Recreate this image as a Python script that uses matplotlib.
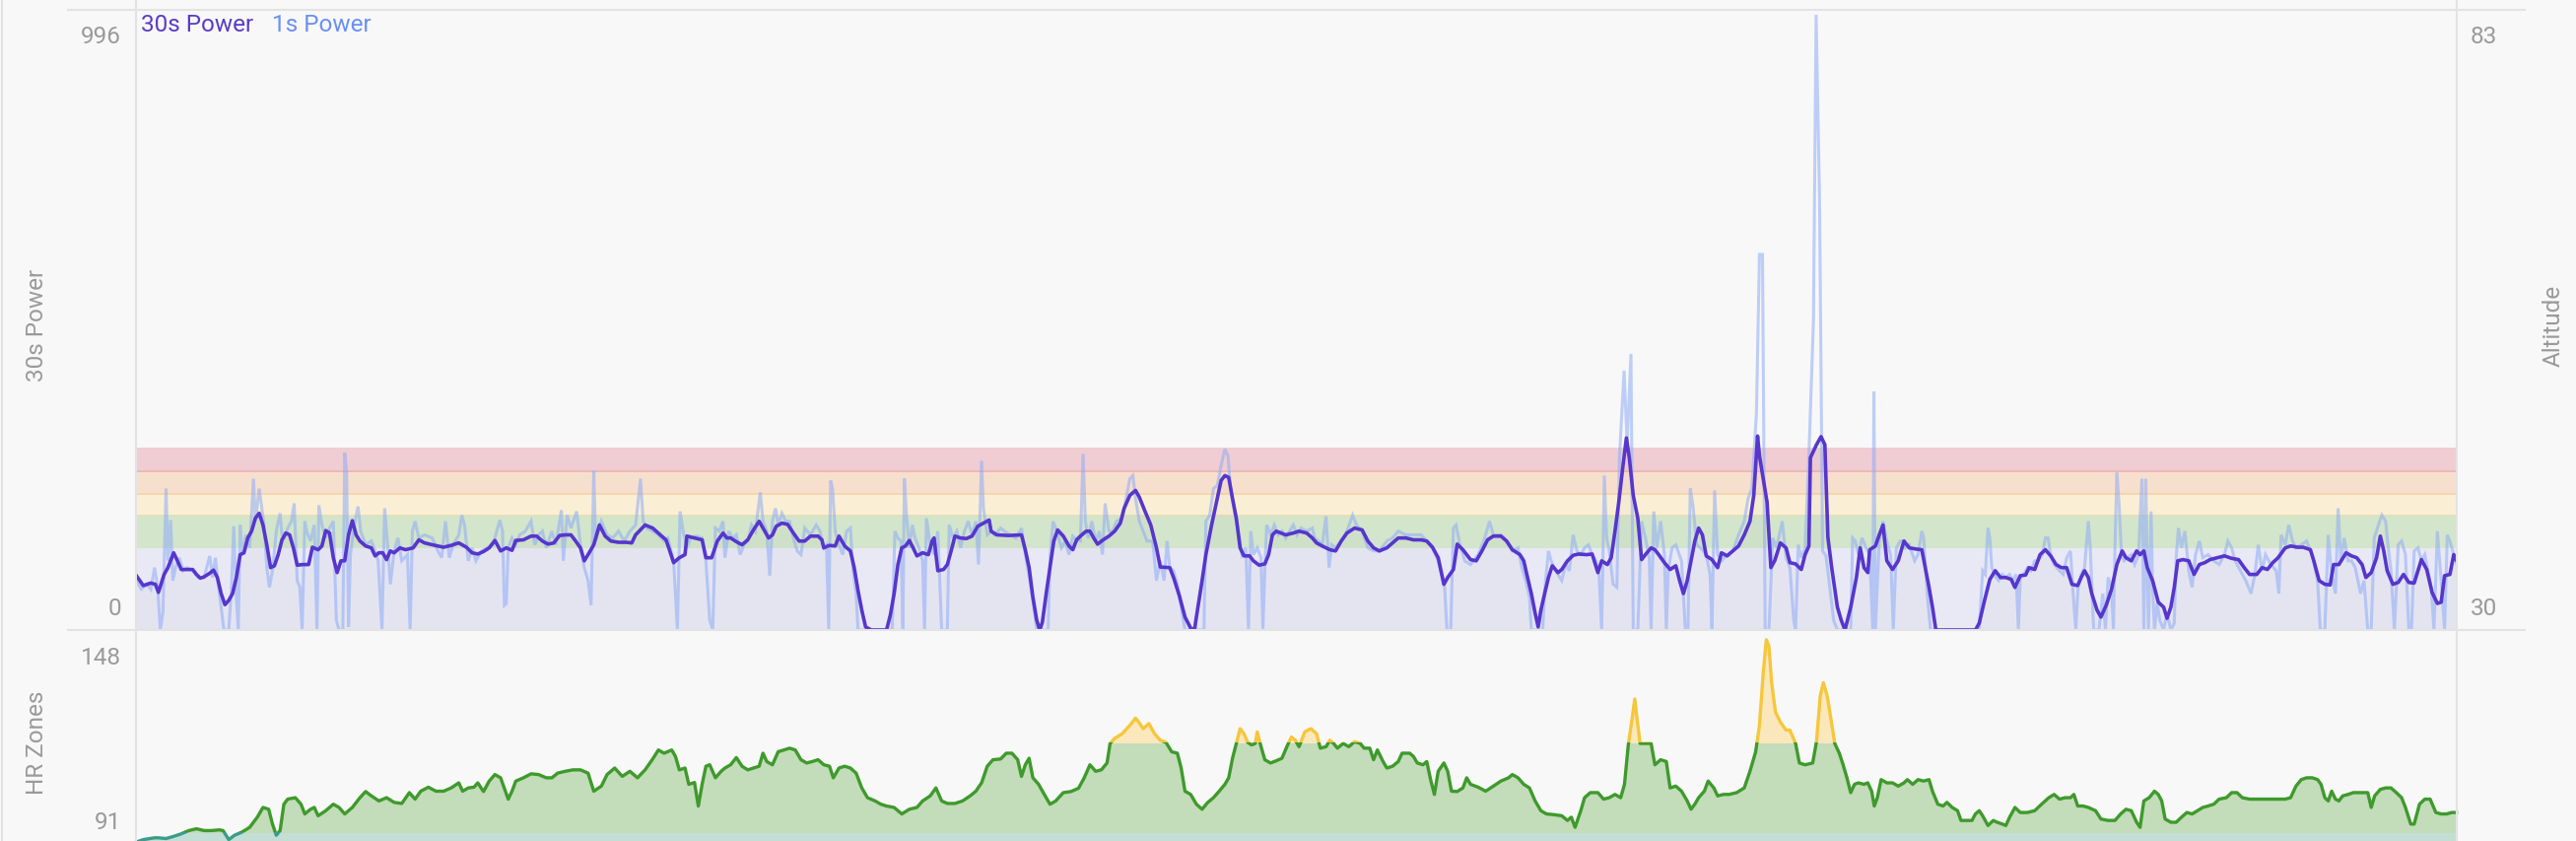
import numpy as np
import matplotlib
matplotlib.use("Agg")
import matplotlib.pyplot as plt
from matplotlib.patches import Rectangle
from matplotlib.lines import Line2D

plt.rcParams['font.family'] = ['Roboto', 'DejaVu Sans']

# ---------------- data (elapsed seconds, value) ----------------
power_30s_samples = [
    (1, 88), (19, 72), (39, 76), (51, 74), (59, 61), (74, 90), (84, 101), (99, 125), (109, 112), (119, 98),
    (149, 98), (159, 90), (169, 84), (179, 86), (194, 92), (204, 97), (214, 85), (224, 59), (234, 41), (244, 48),
    (254, 59), (264, 85), (274, 122), (284, 125), (294, 149), (304, 160), (314, 181), (324, 189), (334, 170), (344, 138),
    (354, 101), (364, 104), (374, 122), (384, 146), (394, 157), (404, 154), (414, 133), (424, 105), (439, 106), (454, 106),
    (464, 134), (479, 130), (489, 136), (499, 161), (509, 157), (519, 117), (529, 93), (539, 112), (549, 112), (559, 154),
    (569, 177), (579, 154), (589, 144), (604, 136), (619, 133), (629, 120), (639, 125), (649, 125), (659, 114), (669, 128),
    (679, 125), (694, 133), (709, 130), (729, 133), (744, 146), (759, 141), (779, 138), (794, 136), (809, 134), (829, 137),
    (849, 141), (869, 134), (884, 125), (899, 123), (914, 127), (929, 133), (944, 145), (959, 128), (974, 133), (989, 129),
    (999, 145), (1019, 146), (1039, 152), (1054, 152), (1069, 144), (1084, 139), (1099, 141), (1114, 153), (1129, 154),
    (1144, 154), (1154, 146), (1169, 133), (1179, 112), (1189, 122), (1204, 138), (1219, 170), (1234, 152), (1249, 144),
    (1269, 142), (1289, 142), (1304, 141), (1314, 154), (1339, 170), (1359, 165), (1379, 154), (1394, 146), (1404, 128),
    (1414, 109), (1429, 117), (1444, 122), (1449, 152), (1469, 149), (1489, 146), (1499, 117), (1514, 117), (1529, 144),
    (1544, 157), (1554, 149), (1564, 149), (1579, 143), (1594, 138), (1609, 146), (1624, 162), (1639, 176), (1654, 160),
    (1664, 149), (1674, 154), (1684, 168), (1699, 173), (1714, 171), (1729, 157), (1744, 144), (1759, 144), (1774, 152),
    (1794, 152), (1804, 146), (1809, 133), (1824, 137), (1839, 136), (1849, 152), (1864, 136), (1879, 128), (1889, 101),
    (1899, 64), (1909, 32), (1919, 5), (1934, 0), (1974, 0), (1984, 24), (1994, 59), (2004, 106), (2014, 133), (2024, 136),
    (2034, 145), (2044, 133), (2054, 120), (2069, 125), (2084, 122), (2094, 144), (2099, 149), (2109, 96), (2124, 98),
    (2134, 106), (2144, 128), (2154, 152), (2169, 149), (2184, 148), (2199, 152), (2214, 168), (2229, 173), (2244, 178),
    (2249, 160), (2264, 154), (2294, 153), (2329, 154), (2339, 130), (2349, 101), (2359, 53), (2369, 16), (2377, 0),
    (2384, 13), (2394, 59), (2404, 101), (2414, 144), (2424, 162), (2439, 152), (2454, 136), (2464, 130), (2474, 146),
    (2484, 152), (2499, 160), (2509, 160), (2519, 149), (2529, 139), (2544, 146), (2559, 152), (2574, 160), (2589, 173),
    (2599, 197), (2614, 218), (2629, 226), (2639, 215), (2654, 192), (2669, 170), (2684, 133), (2694, 102), (2719, 101),
    (2729, 85), (2744, 56), (2759, 21), (2774, 3), (2784, 0), (2789, 21), (2804, 80), (2814, 122), (2829, 170), (2844, 213),
    (2854, 242), (2864, 250), (2874, 247), (2884, 213), (2894, 181), (2904, 133), (2914, 120), (2929, 120), (2939, 112),
    (2954, 105), (2969, 107), (2979, 122), (2989, 154), (2999, 160), (3024, 154), (3044, 157), (3059, 160), (3079, 157),
    (3094, 149), (3105, 141), (3120, 136), (3140, 130), (3155, 128), (3170, 144), (3185, 157), (3205, 165), (3225, 162),
    (3240, 144), (3255, 133), (3270, 128), (3290, 133), (3305, 141), (3320, 149), (3340, 149), (3360, 146), (3380, 146),
    (3395, 144), (3410, 134), (3425, 117), (3440, 74), (3450, 85), (3465, 98), (3475, 139), (3490, 130), (3510, 114),
    (3525, 112), (3540, 128), (3555, 146), (3570, 152), (3590, 152), (3605, 144), (3620, 130), (3640, 122), (3650, 112),
    (3660, 85), (3670, 59), (3680, 27), (3688, 5), (3695, 32), (3705, 59), (3715, 85), (3725, 104), (3740, 93), (3750, 98),
    (3765, 112), (3780, 121), (3795, 123), (3815, 122), (3830, 123), (3845, 93), (3855, 112), (3870, 106), (3880, 117),
    (3890, 160), (3900, 207), (3910, 261), (3920, 311), (3928, 277), (3938, 218), (3950, 181), (3960, 114), (3970, 122),
    (3985, 133), (3995, 130), (4005, 122), (4020, 109), (4035, 98), (4050, 104), (4060, 80), (4070, 59), (4080, 80),
    (4090, 112), (4100, 144), (4110, 165), (4120, 154), (4130, 120), (4145, 114), (4160, 101), (4170, 125), (4185, 120),
    (4200, 128), (4215, 136), (4230, 154), (4245, 176), (4255, 218), (4265, 314), (4270, 282), (4280, 245), (4290, 207),
    (4300, 101), (4310, 112), (4325, 141), (4340, 133), (4350, 109), (4365, 107), (4380, 98), (4390, 122), (4400, 136),
    (4404, 279), (4420, 300), (4432, 313), (4442, 300), (4450, 150), (4460, 101), (4475, 37), (4485, 16), (4495, 0),
    (4510, 37), (4525, 85), (4535, 133), (4545, 101), (4555, 93), (4560, 130), (4575, 136), (4585, 154), (4595, 170),
    (4605, 112), (4620, 98), (4635, 112), (4650, 144), (4664, 133), (4683, 131), (4697, 130), (4706, 101), (4716, 69),
    (4725, 37), (4734, 0), (4838, 0), (4848, 11), (4862, 48), (4876, 82), (4890, 96), (4904, 85), (4918, 85), (4932, 82),
    (4942, 69), (4956, 88), (4970, 89), (4979, 101), (4994, 98), (5008, 122), (5022, 130), (5036, 120), (5050, 106),
    (5064, 101), (5078, 101), (5092, 74), (5107, 72), (5116, 85), (5125, 96), (5135, 85), (5144, 59), (5158, 32),
    (5168, 21), (5182, 40), (5196, 66), (5210, 106), (5224, 128), (5234, 117), (5248, 112), (5262, 128), (5271, 122),
    (5281, 128), (5290, 101), (5304, 80), (5319, 45), (5333, 37), (5342, 19), (5352, 37), (5361, 69), (5370, 112),
    (5384, 114), (5399, 112), (5413, 90), (5427, 106), (5441, 109), (5455, 114), (5474, 117), (5493, 120), (5512, 116),
    (5530, 114), (5545, 101), (5559, 90), (5578, 90), (5592, 101), (5606, 98), (5620, 109), (5634, 117), (5653, 133),
    (5667, 136), (5686, 134), (5700, 134), (5719, 130), (5728, 112), (5742, 80), (5757, 74), (5771, 73), (5780, 106),
    (5794, 106), (5813, 125), (5827, 120), (5841, 117), (5855, 106), (5865, 85), (5879, 93), (5893, 117), (5903, 152),
    (5912, 128), (5921, 96), (5936, 74), (5950, 77), (5964, 90), (5978, 77), (5992, 76), (6011, 114), (6025, 98),
    (6039, 61), (6053, 43), (6063, 45), (6072, 88), (6086, 90), (6096, 122), (6104, 112),
]

power_1s_samples = [
    (1, 80), (14, 66), (29, 74), (39, 66), (49, 101), (57, 69), (64, 0), (71, 29), (79, 229), (84, 112), (91, 178),
    (97, 80), (104, 101), (114, 117), (124, 96), (134, 101), (149, 96), (164, 85), (179, 85), (194, 120), (201, 85),
    (209, 117), (217, 69), (224, 37), (231, 0), (244, 0), (251, 66), (257, 168), (264, 53), (269, 0), (274, 170),
    (279, 122), (289, 154), (299, 133), (309, 245), (314, 176), (324, 229), (331, 197), (337, 170), (344, 101), (351, 69),
    (359, 96), (369, 160), (379, 189), (384, 154), (391, 149), (399, 165), (409, 176), (416, 205), (424, 80), (431, 69),
    (437, 0), (444, 176), (449, 160), (459, 144), (469, 170), (476, 0), (481, 202), (489, 170), (499, 149), (509, 165),
    (519, 176), (527, 16), (534, 0), (544, 0), (549, 287), (554, 255), (559, 5), (564, 122), (574, 170), (584, 200),
    (591, 160), (604, 138), (619, 144), (629, 128), (637, 112), (647, 0), (654, 197), (661, 144), (669, 74), (679, 128),
    (689, 149), (699, 112), (714, 122), (721, 0), (727, 160), (734, 176), (744, 149), (759, 154), (779, 149), (794, 128),
    (804, 117), (814, 176), (824, 117), (834, 138), (849, 154), (857, 186), (864, 170), (874, 112), (884, 133), (894, 112),
    (909, 128), (924, 133), (939, 138), (957, 178), (964, 160), (969, 40), (974, 43), (979, 133), (989, 149), (999, 138),
    (1009, 154), (1024, 160), (1039, 176), (1049, 138), (1059, 154), (1069, 160), (1079, 133), (1094, 160), (1104, 138),
    (1119, 194), (1124, 112), (1134, 186), (1144, 165), (1159, 192), (1169, 138), (1179, 101), (1189, 80), (1197, 40),
    (1204, 258), (1209, 144), (1224, 176), (1239, 154), (1254, 149), (1269, 160), (1284, 144), (1299, 160), (1314, 170),
    (1327, 245), (1334, 176), (1344, 165), (1359, 160), (1374, 154), (1389, 144), (1399, 149), (1414, 112), (1424, 0),
    (1431, 192), (1439, 160), (1449, 133), (1459, 149), (1474, 152), (1489, 149), (1499, 112), (1509, 16), (1517, 0),
    (1524, 165), (1534, 160), (1544, 176), (1549, 117), (1559, 160), (1569, 149), (1579, 154), (1589, 122), (1599, 138),
    (1609, 144), (1619, 170), (1629, 160), (1642, 223), (1649, 176), (1659, 160), (1667, 88), (1674, 176), (1682, 197),
    (1689, 170), (1699, 189), (1709, 176), (1719, 176), (1729, 149), (1739, 128), (1749, 122), (1759, 165), (1774, 154),
    (1789, 170), (1799, 160), (1809, 133), (1816, 138), (1822, 0), (1827, 242), (1832, 229), (1839, 160), (1849, 138),
    (1859, 122), (1869, 160), (1879, 165), (1886, 96), (1894, 59), (1899, 0), (1989, 0), (1996, 160), (2004, 149),
    (2012, 144), (2017, 0), (2021, 245), (2026, 191), (2034, 133), (2042, 170), (2049, 149), (2059, 133), (2069, 112),
    (2074, 0), (2079, 181), (2089, 138), (2099, 122), (2109, 160), (2119, 0), (2134, 0), (2139, 170), (2149, 149),
    (2159, 160), (2169, 133), (2179, 160), (2189, 176), (2199, 154), (2209, 176), (2216, 106), (2224, 274), (2229, 197),
    (2239, 154), (2249, 160), (2259, 154), (2274, 165), (2284, 160), (2299, 154), (2314, 149), (2329, 165), (2339, 122),
    (2349, 85), (2359, 48), (2369, 0), (2399, 0), (2404, 117), (2412, 176), (2422, 160), (2434, 133), (2444, 144),
    (2454, 122), (2464, 152), (2474, 146), (2484, 144), (2491, 285), (2497, 176), (2504, 149), (2514, 176), (2524, 144),
    (2534, 160), (2542, 122), (2549, 205), (2559, 160), (2569, 160), (2579, 176), (2594, 181), (2604, 213), (2614, 245),
    (2622, 250), (2629, 213), (2639, 176), (2649, 160), (2659, 144), (2674, 144), (2684, 80), (2694, 112), (2704, 80),
    (2712, 144), (2719, 101), (2729, 96), (2739, 74), (2749, 37), (2759, 0), (2809, 0), (2814, 176), (2824, 186),
    (2834, 229), (2844, 234), (2854, 266), (2864, 293), (2872, 282), (2879, 229), (2889, 192), (2899, 160), (2909, 122),
    (2919, 133), (2926, 0), (2932, 160), (2939, 122), (2949, 133), (2959, 117), (2964, 0), (2969, 96), (2974, 170),
    (2984, 154), (2994, 170), (3004, 154), (3014, 160), (3024, 149), (3034, 160), (3044, 170), (3054, 154), (3064, 165),
    (3079, 160), (3094, 165), (3100, 149), (3110, 144), (3120, 138), (3130, 184), (3138, 101), (3145, 138), (3155, 133),
    (3170, 144), (3185, 160), (3200, 186), (3210, 170), (3225, 160), (3240, 133), (3255, 128), (3270, 128), (3290, 144),
    (3305, 149), (3320, 160), (3340, 154), (3360, 154), (3380, 154), (3395, 144), (3410, 133), (3425, 112), (3435, 85),
    (3442, 69), (3448, 0), (3458, 0), (3465, 165), (3472, 170), (3482, 138), (3495, 112), (3510, 106), (3530, 122),
    (3545, 144), (3560, 176), (3570, 154), (3590, 154), (3605, 144), (3620, 128), (3635, 133), (3645, 101), (3655, 80),
    (3665, 53), (3670, 0), (3700, 0), (3705, 64), (3715, 128), (3722, 112), (3730, 101), (3740, 90), (3750, 80),
    (3760, 106), (3770, 96), (3780, 154), (3790, 128), (3800, 122), (3810, 133), (3820, 138), (3830, 122), (3840, 112),
    (3848, 90), (3855, 0), (3862, 250), (3868, 149), (3875, 128), (3885, 74), (3895, 69), (3902, 282), (3914, 420),
    (3922, 300), (3932, 447), (3938, 0), (3950, 0), (3960, 176), (3970, 149), (3980, 117), (3985, 0), (3992, 192),
    (4000, 133), (4010, 176), (4020, 122), (4025, 0), (4030, 96), (4040, 133), (4050, 138), (4065, 112), (4075, 0),
    (4082, 0), (4088, 229), (4095, 202), (4105, 138), (4115, 133), (4130, 122), (4140, 90), (4145, 0), (4152, 226),
    (4160, 122), (4170, 112), (4185, 122), (4200, 128), (4215, 154), (4230, 176), (4240, 213), (4250, 229), (4262, 350),
    (4270, 608), (4278, 608), (4285, 0), (4295, 0), (4305, 149), (4315, 133), (4330, 176), (4340, 117), (4350, 101),
    (4360, 16), (4365, 0), (4372, 138), (4380, 117), (4390, 133), (4400, 282), (4412, 500), (4419, 996), (4428, 700),
    (4436, 128), (4445, 120), (4455, 69), (4465, 16), (4475, 0), (4510, 0), (4515, 149), (4522, 144), (4530, 122),
    (4540, 149), (4550, 133), (4560, 122), (4568, 0), (4571, 386), (4575, 0), (4585, 144), (4595, 176), (4605, 144),
    (4615, 122), (4622, 0), (4630, 133), (4640, 144), (4650, 144), (4654, 133), (4664, 138), (4678, 112), (4687, 122),
    (4697, 160), (4702, 149), (4711, 59), (4720, 0), (4848, 0), (4857, 96), (4864, 90), (4871, 165), (4876, 149),
    (4881, 101), (4892, 85), (4899, 80), (4909, 90), (4918, 85), (4928, 90), (4937, 80), (4945, 90), (4951, 0), (4956, 85),
    (4965, 90), (4975, 101), (4984, 96), (4994, 112), (5003, 112), (5014, 122), (5022, 149), (5029, 149), (5036, 122),
    (5045, 106), (5059, 96), (5069, 90), (5078, 117), (5088, 128), (5095, 59), (5102, 0), (5108, 69), (5116, 90),
    (5125, 101), (5135, 176), (5140, 133), (5149, 0), (5163, 0), (5173, 59), (5180, 0), (5187, 85), (5196, 69), (5201, 0),
    (5205, 133), (5210, 255), (5216, 202), (5222, 122), (5229, 112), (5238, 117), (5248, 122), (5257, 106), (5267, 122),
    (5276, 245), (5281, 0), (5286, 245), (5293, 0), (5300, 192), (5304, 69), (5309, 0), (5316, 43), (5323, 16), (5333, 0),
    (5342, 27), (5352, 0), (5361, 11), (5366, 117), (5372, 165), (5380, 133), (5389, 160), (5399, 96), (5408, 69),
    (5417, 122), (5427, 144), (5436, 117), (5450, 122), (5465, 112), (5479, 106), (5493, 122), (5502, 144), (5512, 133),
    (5521, 112), (5535, 96), (5549, 80), (5563, 59), (5573, 90), (5582, 138), (5592, 96), (5601, 122), (5615, 106),
    (5629, 96), (5636, 59), (5642, 154), (5653, 138), (5662, 170), (5672, 144), (5681, 133), (5695, 138), (5709, 144),
    (5724, 122), (5738, 80), (5745, 0), (5757, 0), (5766, 154), (5775, 90), (5785, 59), (5792, 197), (5799, 112),
    (5808, 149), (5818, 112), (5827, 112), (5837, 101), (5851, 59), (5860, 80), (5870, 0), (5879, 0), (5887, 149),
    (5898, 170), (5907, 186), (5917, 176), (5921, 149), (5931, 96), (5940, 0), (5950, 138), (5959, 144), (5969, 122),
    (5978, 0), (5985, 0), (5992, 128), (6002, 133), (6011, 112), (6020, 122), (6030, 90), (6037, 69), (6044, 0),
    (6053, 160), (6063, 80), (6072, 0), (6079, 154), (6086, 144), (6096, 122), (6104, 106),
]

heart_rate_samples = [
    (0, 91.5), (19, 92.2), (49, 92.7), (59, 92.7), (79, 92.5), (99, 93.1), (119, 93.8), (139, 94.7), (159, 95.2),
    (179, 94.7), (199, 94.7), (219, 94.9), (229, 94.7), (244, 92.2), (259, 93.4), (279, 94.3), (299, 95.6), (319, 98.4),
    (334, 101.1), (349, 100.6), (359, 96.5), (369, 93.4), (379, 94.7), (389, 102.0), (399, 103.4), (419, 103.8),
    (434, 102.0), (444, 99.3), (459, 100.6), (469, 101.1), (479, 98.8), (499, 100.2), (519, 102.0), (534, 101.1),
    (549, 99.3), (569, 101.1), (589, 103.8), (604, 105.5), (619, 104.3), (639, 102.9), (659, 103.8), (679, 102.5),
    (699, 102.2), (719, 105.2), (734, 103.4), (749, 105.6), (769, 106.7), (789, 105.6), (809, 105.6), (829, 106.5),
    (849, 107.9), (859, 105.6), (874, 106.5), (889, 106.7), (899, 107.9), (914, 105.5), (929, 108.4), (944, 110.2),
    (959, 109.3), (979, 103.4), (989, 105.6), (999, 108.4), (1019, 109.3), (1039, 110.4), (1059, 110.2), (1079, 109.3),
    (1094, 109.3), (1109, 110.6), (1129, 111.1), (1149, 111.5), (1169, 111.5), (1189, 110.6), (1204, 105.6),
    (1224, 107.0), (1239, 110.2), (1259, 112.0), (1279, 109.7), (1299, 111.1), (1319, 109.3), (1339, 111.5),
    (1359, 114.5), (1374, 117.0), (1389, 116.1), (1409, 117.0), (1419, 115.2), (1429, 111.5), (1444, 112.0),
    (1454, 107.5), (1469, 108.0), (1479, 101.5), (1489, 107.5), (1499, 112.5), (1509, 112.9), (1524, 109.3),
    (1539, 111.1), (1549, 112.0), (1564, 112.9), (1579, 114.9), (1594, 112.5), (1609, 111.5), (1624, 112.0),
    (1639, 112.5), (1649, 116.1), (1659, 113.8), (1674, 112.9), (1689, 116.5), (1704, 117.0), (1719, 117.5),
    (1734, 117.0), (1749, 114.3), (1764, 113.4), (1779, 113.8), (1794, 114.3), (1809, 112.9), (1824, 112.5),
    (1834, 109.3), (1849, 112.0), (1864, 112.5), (1879, 112.0), (1894, 110.6), (1909, 106.5), (1924, 103.8),
    (1944, 102.9), (1959, 102.0), (1974, 101.5), (1994, 101.1), (2014, 99.3), (2034, 100.6), (2054, 101.1),
    (2069, 102.9), (2089, 104.3), (2104, 106.5), (2119, 102.9), (2134, 102.2), (2154, 102.2), (2174, 102.9),
    (2194, 104.3), (2209, 105.6), (2224, 107.9), (2239, 112.5), (2254, 114.3), (2274, 114.5), (2289, 116.1),
    (2304, 116.1), (2319, 114.3), (2329, 109.7), (2339, 112.9), (2349, 114.7), (2359, 109.3), (2374, 107.5),
    (2389, 104.7), (2404, 102.0), (2419, 102.9), (2439, 105.2), (2459, 105.5), (2479, 106.4), (2494, 109.3),
    (2509, 112.9), (2524, 111.1), (2539, 111.5), (2554, 113.4), (2562, 118.8), (2574, 120.2), (2594, 121.5),
    (2614, 123.8), (2629, 125.8), (2639, 124.5), (2649, 122.9), (2664, 124.3), (2679, 121.5), (2694, 119.7),
    (2709, 119.1), (2724, 116.5), (2739, 116.1), (2749, 112.0), (2759, 105.6), (2774, 104.7), (2789, 102.0),
    (2804, 100.6), (2819, 102.5), (2834, 103.8), (2849, 105.6), (2864, 107.5), (2874, 109.3), (2884, 114.7),
    (2894, 118.8), (2904, 122.9), (2914, 121.5), (2924, 119.1), (2934, 118.4), (2944, 118.8), (2949, 122.0),
    (2956, 119.1), (2969, 114.3), (2984, 113.4), (2999, 114.0), (3014, 114.7), (3029, 118.4), (3039, 120.6),
    (3049, 119.7), (3059, 117.9), (3074, 122.0), (3090, 122.9), (3105, 121.5), (3115, 117.5), (3130, 117.9),
    (3140, 119.7), (3150, 118.8), (3160, 117.5), (3175, 118.8), (3190, 117.9), (3205, 119.3), (3220, 118.8),
    (3230, 117.5), (3245, 117.5), (3255, 114.3), (3265, 117.0), (3280, 113.8), (3290, 112.0), (3305, 112.5),
    (3320, 113.8), (3330, 116.1), (3350, 116.1), (3360, 115.2), (3370, 113.4), (3385, 112.9), (3395, 113.8),
    (3405, 108.8), (3415, 104.7), (3425, 111.1), (3440, 113.4), (3450, 111.1), (3460, 105.6), (3475, 105.5),
    (3490, 106.5), (3500, 109.3), (3510, 107.5), (3530, 106.7), (3550, 105.6), (3570, 107.0), (3590, 108.4),
    (3610, 109.3), (3620, 110.2), (3635, 109.3), (3650, 107.5), (3665, 106.5), (3680, 102.9), (3695, 100.2),
    (3710, 99.3), (3730, 99.1), (3750, 98.8), (3765, 97.5), (3775, 98.4), (3785, 95.6), (3800, 100.2), (3810, 103.8),
    (3825, 105.2), (3845, 105.2), (3860, 103.4), (3875, 103.8), (3890, 104.7), (3905, 103.8), (3915, 107.5),
    (3925, 118.4), (3935, 125.6), (3942, 131.1), (3948, 125.6), (3956, 118.8), (3970, 118.8), (3985, 118.8),
    (3995, 112.9), (4010, 114.3), (4025, 113.8), (4035, 106.5), (4050, 107.0), (4065, 105.6), (4080, 102.9),
    (4090, 100.6), (4100, 102.0), (4110, 103.8), (4125, 105.6), (4135, 108.4), (4150, 106.5), (4160, 104.3),
    (4175, 104.7), (4190, 104.7), (4210, 105.2), (4230, 106.5), (4245, 111.1), (4260, 116.5), (4270, 123.8),
    (4280, 138.4), (4288, 147.5), (4295, 145.6), (4302, 135.6), (4312, 127.5), (4325, 124.7), (4340, 122.5),
    (4350, 122.5), (4365, 118.8), (4375, 113.4), (4390, 112.9), (4410, 113.4), (4420, 119.3), (4430, 132.0),
    (4438, 135.6), (4448, 132.0), (4458, 125.6), (4468, 118.8), (4480, 116.1), (4490, 112.9), (4500, 109.3),
    (4510, 105.2), (4520, 107.5), (4530, 107.9), (4545, 107.5), (4555, 107.9), (4565, 105.6), (4572, 101.5),
    (4580, 103.8), (4590, 108.8), (4605, 107.9), (4620, 107.9), (4635, 107.0), (4650, 107.9), (4659, 108.8),
    (4673, 107.5), (4687, 108.8), (4702, 108.4), (4716, 108.8), (4725, 105.6), (4739, 102.0), (4753, 101.5),
    (4763, 102.5), (4777, 101.1), (4791, 100.2), (4800, 97.5), (4815, 97.5), (4829, 97.5), (4838, 99.3), (4848, 100.2),
    (4857, 98.8), (4871, 96.1), (4885, 97.5), (4895, 97.0), (4909, 96.5), (4918, 96.1), (4928, 98.4), (4942, 101.1),
    (4956, 99.7), (4975, 99.7), (4994, 100.2), (5012, 102.0), (5031, 103.8), (5045, 104.7), (5059, 103.4),
    (5074, 103.8), (5088, 103.8), (5097, 104.7), (5107, 101.5), (5121, 101.5), (5135, 101.1), (5154, 100.2),
    (5168, 97.9), (5187, 97.5), (5205, 97.5), (5220, 99.3), (5234, 100.6), (5248, 100.2), (5262, 97.0), (5271, 95.6),
    (5281, 102.9), (5295, 103.8), (5309, 105.6), (5319, 104.7), (5328, 102.9), (5337, 97.9), (5352, 97.0),
    (5366, 97.0), (5380, 98.4), (5394, 99.7), (5408, 99.3), (5422, 100.2), (5436, 101.1), (5450, 101.5),
    (5465, 102.0), (5479, 103.4), (5498, 103.8), (5512, 105.2), (5526, 105.2), (5540, 103.8), (5559, 103.4),
    (5578, 103.4), (5596, 103.4), (5615, 103.4), (5634, 103.4), (5653, 103.4), (5667, 103.8), (5681, 107.0),
    (5695, 108.8), (5709, 109.3), (5724, 109.3), (5738, 108.8), (5747, 107.5), (5757, 103.8), (5766, 102.9),
    (5775, 105.6), (5785, 103.4), (5794, 102.9), (5804, 104.3), (5818, 104.7), (5832, 105.2), (5851, 105.2),
    (5870, 105.2), (5879, 101.1), (5888, 104.3), (5903, 106.1), (5917, 106.5), (5931, 106.5), (5945, 105.2),
    (5959, 103.8), (5969, 101.1), (5983, 96.5), (5992, 96.5), (6006, 102.0), (6020, 103.4), (6034, 103.4),
    (6049, 99.7), (6063, 99.3), (6077, 99.3), (6091, 99.7), (6103, 99.7),
]

power_zone_edges = [0, 132, 185, 220, 257, 295]          # watts
power_zone_colors = ['#e9e9f5', '#d3e5cb', '#faefd5', '#f7dfce', '#efcdd3']
power_zone_lines = [None, None, '#e2e0b6', '#f5d4ab', '#ecb5b5']
hr_zone_edges = [94.3, 119.2]                            # bpm
power_max = 996
altitude_range = (30, 83)
hr_range = (91, 148)
total_seconds = 6104

t_30s, power_30s = map(np.array, zip(*power_30s_samples))
t_1s, power_1s = map(np.array, zip(*power_1s_samples))
t_hr, heart_rate = map(np.array, zip(*heart_rate_samples))

# ---------------- figure ----------------
W, H = 2614, 854
BG = '#f8f8f8'
fig = plt.figure(figsize=(W / 100, H / 100), dpi=100, facecolor=BG)

L, R = 138, 2493
P_TOP, P_BOT = 11, 640

ax_p = fig.add_axes([L / W, 1 - P_BOT / H, (R - L) / W, (P_BOT - P_TOP) / H])
ax_h = fig.add_axes([L / W, 0, (R - L) / W, (H - P_BOT) / H])

for ax in (ax_p, ax_h):
    ax.set_facecolor(BG)
    for s in ax.spines.values():
        s.set_visible(False)
    ax.set_xticks([])
    ax.set_yticks([])
    ax.set_xlim(0, total_seconds)

# power panel
ax_p.set_ylim(0, power_max * 1.008)
for i in range(len(power_zone_colors)):
    ax_p.axhspan(power_zone_edges[i], power_zone_edges[i + 1], color=power_zone_colors[i], lw=0, zorder=0)
    if power_zone_lines[i]:
        ax_p.axhline(power_zone_edges[i], color=power_zone_lines[i], lw=1.3, zorder=0.5)

ax_p.fill_between(t_30s, 0, power_30s, color='#6f6a9a', alpha=0.035, lw=0, zorder=1)
ax_p.plot(t_1s, power_1s, color='#8eabf6', alpha=0.55, lw=2.2, zorder=2, solid_joinstyle='miter')
ax_p.plot(t_30s, power_30s, color='#5636cc', lw=2.6, zorder=3)

# HR panel
hr_lo_view = hr_range[1] - (H - 648) / ((857 - 648) / (hr_range[1] - hr_range[0]))
hr_hi_view = hr_range[1] + (648 - P_BOT) / ((857 - 648) / (hr_range[1] - hr_range[0]))
ax_h.set_ylim(hr_lo_view, hr_hi_view)

bands = [
    (0, hr_zone_edges[0], '#c3ded5', '#3a9c8a'),
    (hr_zone_edges[0], hr_zone_edges[1], '#c3dcb9', '#3e9a2c'),
    (hr_zone_edges[1], 300, '#fae8bc', '#f6c63c'),
]
for lo, hi, fc, lc in bands:
    poly = ax_h.fill_between(t_hr, 0, heart_rate, color=fc, lw=0, zorder=1)
    line, = ax_h.plot(t_hr, heart_rate, color=lc, lw=2.4, zorder=2)
    rect = Rectangle((-1000, lo), total_seconds + 2000, hi - lo, transform=ax_h.transData)
    poly.set_clip_path(rect)
    line.set_clip_path(rect)

# ---------------- frame lines ----------------
def fig_line(x0, y0, x1, y1, color='#e3e3e3', lw=1.5):
    fig.add_artist(Line2D([x0 / W, x1 / W], [1 - y0 / H, 1 - y1 / H], transform=fig.transFigure,
                          color=color, lw=lw, zorder=10))

fig_line(69, 10.5, 2562, 10.5)
fig_line(69, 640, 2562, 640)
fig_line(137.5, 0, 137.5, H)
fig_line(2493, 0, 2493, H)
fig_line(1.5, 0, 1.5, H, color='#dedede', lw=1.2)

# ---------------- texts ----------------
GREY = '#9a9a9a'
FS = 17.5

def ftext(x, y, s, **kw):
    kw.setdefault('color', GREY)
    kw.setdefault('fontsize', FS)
    fig.text(x / W, 1 - y / H, s, **kw)

ftext(123, 37, str(power_max), ha='right', va='center')
ftext(123, 618, '0', ha='right', va='center')
ftext(123, 668, str(hr_range[1]), ha='right', va='center')
ftext(123, 835, str(hr_range[0]), ha='right', va='center')
ftext(2507, 37, str(altitude_range[1]), ha='left', va='center')
ftext(2507, 618, str(altitude_range[0]), ha='left', va='center')

ftext(37, 330, '30s Power', ha='center', va='center', rotation=90)
ftext(37, 753, 'HR Zones', ha='center', va='center', rotation=90)
ftext(2591, 330, 'Altitude', ha='center', va='center', rotation=90)

ftext(143, 25, '30s Power', ha='left', va='center', color='#5a3cc6')
ftext(276, 25, '1s Power', ha='left', va='center', color='#6b8ff2')

fig.savefig('out.png', dpi=100, facecolor=BG)
